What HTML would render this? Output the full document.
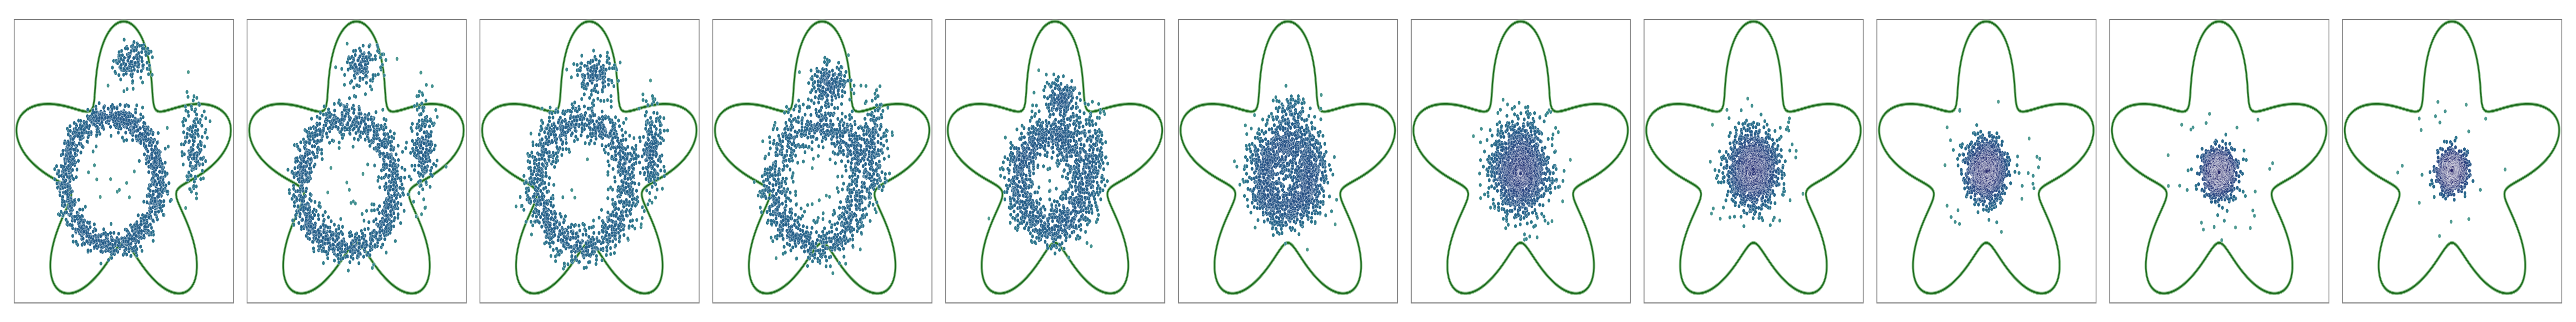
<!DOCTYPE html>
<html><head><meta charset="utf-8"><title>Star flow scatter panels</title>
<style>
html,body{margin:0;padding:0;background:#fff;width:100%;height:100%;overflow:hidden;}
svg{display:block;position:absolute;left:0;top:0;width:100vw;height:100vh;}
</style></head>
<body>
<svg id="chart" viewBox="0 0 6875 625" preserveAspectRatio="none" xmlns="http://www.w3.org/2000/svg"></svg>
<script>
// ---- data: per-panel cloud components (normalized star coordinates, y up) ----
const panelIndex = [0,1,2,3,4,5,6,7,8,9,10];
const ringCx  = [-0.11,-0.09,-0.07,-0.04,-0.03,-0.01,0.00,0,0,0,0];
const ringCy  = [-0.08,-0.10,-0.10,-0.10,-0.08,-0.05,-0.03,0,0,0,0];
const ringR   = [0.43,0.43,0.42,0.41,0.32,0.24,0.14,0,0,0,0];
const ringSd  = [0.045,0.055,0.065,0.075,0.08,0.08,0.09,0,0,0,0];
const ringW   = [0.74,0.72,0.70,0.70,0.74,0.85,0.45,0,0,0,0];
const topCx   = [0.08,0.05,0.05,0.07,0.05,0.04,0,0,0,0,0];
const topCy   = [0.75,0.72,0.66,0.60,0.50,0.40,0,0,0,0,0];
const topW    = [0.09,0.09,0.10,0.10,0.10,0.06,0,0,0,0,0];
const rightCx = [0.65,0.62,0.57,0.49,0.35,0.25,0,0,0,0,0];
const rightCy = [0.18,0.16,0.15,0.20,0.10,0.05,0,0,0,0,0];
const rightW  = [0.11,0.12,0.12,0.12,0.10,0.05,0,0,0,0,0];
const blobCy  = [0,0,0,0,0,0,0.04,0.00,-0.01,-0.02,-0.01];
const blobSdX = [0,0,0,0,0,0.12,0.13,0.11,0.085,0.07,0.06];
const blobSdY = [0,0,0,0,0,0.14,0.17,0.13,0.10,0.08,0.065];
const blobW   = [0,0,0,0,0,0.02,0.53,1,1,1,1];
const pointsPerPanel = [1500,1500,1500,1500,1500,1500,1500,1500,1400,1300,1200];
// star outline: r(phi) = starA + starB*cos(5*phi)
const starA = 0.77, starB = 0.26;

// ---- layout ----
const NS = "http://www.w3.org/2000/svg";
const svg = document.getElementById("chart");
const panelLeft0 = 38, panelPitch = 621.4, panelW = 585, panelTop = 38, panelH = 550;
const cxOff = 292, cyOff = 291, sx = 290, sy = 279;
function xScale(i, u){ return panelLeft0 + panelPitch*i + cxOff + u*sx; }
function yScale(v){ return panelTop + cyOff - v*sy; }

const crest = ["#a5cd90","#7fba92","#5ba392","#3d8c90","#2c758d","#265e8a","#2b4a84","#2d3779","#2c2a6b"];
function hex2rgb(h){return [parseInt(h.substr(1,2),16),parseInt(h.substr(3,2),16),parseInt(h.substr(5,2),16)];}
const crestRGB = crest.map(hex2rgb);
function cmap(t){
  t=Math.max(0,Math.min(1,t)); const f=t*(crestRGB.length-1); const k=Math.min(crestRGB.length-2,Math.floor(f)); const r=f-k;
  const a=crestRGB[k], b=crestRGB[k+1];
  return "rgb("+a.map((v,j)=>Math.round(v+(b[j]-v)*r)).join(",")+")";
}
function mulberry32(a){return function(){a|=0;a=a+0x6D2B79F5|0;let t=Math.imul(a^a>>>15,1|a);t=t+Math.imul(t^t>>>7,61|t)^t;return((t^t>>>14)>>>0)/4294967296;};}
function gauss(rng){let u=rng()||1e-9,v=rng();return Math.sqrt(-2*Math.log(u))*Math.cos(2*Math.PI*v);}

const allPanels = [];
panelIndex.forEach(i=>{
  const rng=mulberry32(1234+i*77);
  const N=pointsPerPanel[i], pts=[];
  const wSum=ringW[i]+topW[i]+rightW[i]+blobW[i];
  for(let n=0;n<N;n++){
    let q=rng()*1.03*wSum, u, v;
    if(q<ringW[i]){const a=rng()*2*Math.PI, rr=ringR[i]+gauss(rng)*ringSd[i];u=ringCx[i]+rr*Math.cos(a);v=ringCy[i]+rr*Math.sin(a)*1.05;}
    else if((q-=ringW[i])<topW[i]){u=topCx[i]+gauss(rng)*0.09;v=topCy[i]+gauss(rng)*0.07;}
    else if((q-=topW[i])<rightW[i]){u=rightCx[i]+gauss(rng)*0.055;v=rightCy[i]+gauss(rng)*0.17;}
    else if((q-=rightW[i])<blobW[i]){u=gauss(rng)*blobSdX[i];v=blobCy[i]+gauss(rng)*blobSdY[i];}
    else {const a=rng()*2*Math.PI, rr=Math.sqrt(rng())*0.5;u=rr*Math.cos(a);v=rr*Math.sin(a);}
    pts.push([u,v]);
  }
  const h=0.06, dens=pts.map(p=>{let s=0;for(const o of pts){const dx=p[0]-o[0],dy=p[1]-o[1];const r2=dx*dx+dy*dy;if(r2<9*h*h)s+=Math.exp(-r2/(2*h*h));}return s;});
  allPanels.push({pts,dens});
});
const globalMax = Math.max(...allPanels.map(p=>Math.max(...p.dens)));

panelIndex.forEach(i=>{
  const g=document.createElementNS(NS,"g");
  
  
  svg.appendChild(g);
  const frame=document.createElementNS(NS,"rect");
  
  
  frame.setAttribute("x",panelLeft0+panelPitch*i); frame.setAttribute("y",panelTop);
  frame.setAttribute("width",panelW); frame.setAttribute("height",panelH);
  frame.setAttribute("fill","none"); frame.setAttribute("stroke","#808080"); frame.setAttribute("stroke-width","2.2");
  g.appendChild(frame);
  let d="";
  for(let k=0;k<=720;k++){
    const phi=k/720*2*Math.PI, r=starA+starB*Math.cos(5*phi);
    const X=xScale(i,r*Math.sin(phi)), Y=yScale(r*Math.cos(phi));
    d+=(k?"L":"M")+X.toFixed(1)+","+Y.toFixed(1);
  }
  [["#9cc99c",7,"star-outline-halo"],["#1f6e1f",3.5,"star-outline"]].forEach(s=>{
    const p=document.createElementNS(NS,"path");
    
    
    p.setAttribute("d",d+"Z"); p.setAttribute("fill","none"); p.setAttribute("stroke",s[0]); p.setAttribute("stroke-width",s[1]);
    g.appendChild(p);
  });
  const {pts,dens}=allPanels[i];
  const order=pts.map((p,k)=>k).sort((a,b)=>dens[a]-dens[b]);
  const pg=document.createElementNS(NS,"g");
  
  
  g.appendChild(pg);
  order.forEach(k=>{
    const c=document.createElementNS(NS,"circle");
    
    
    c.setAttribute("cx",xScale(i,pts[k][0]).toFixed(1)); c.setAttribute("cy",yScale(pts[k][1]).toFixed(1));
    c.setAttribute("r","4"); c.setAttribute("fill",cmap(Math.pow(dens[k]/globalMax,0.2)));
    c.setAttribute("stroke","#ffffff"); c.setAttribute("stroke-width","0.6"); c.setAttribute("stroke-opacity","0.7");
    pg.appendChild(c);
  });
});
</script>
</body></html>
